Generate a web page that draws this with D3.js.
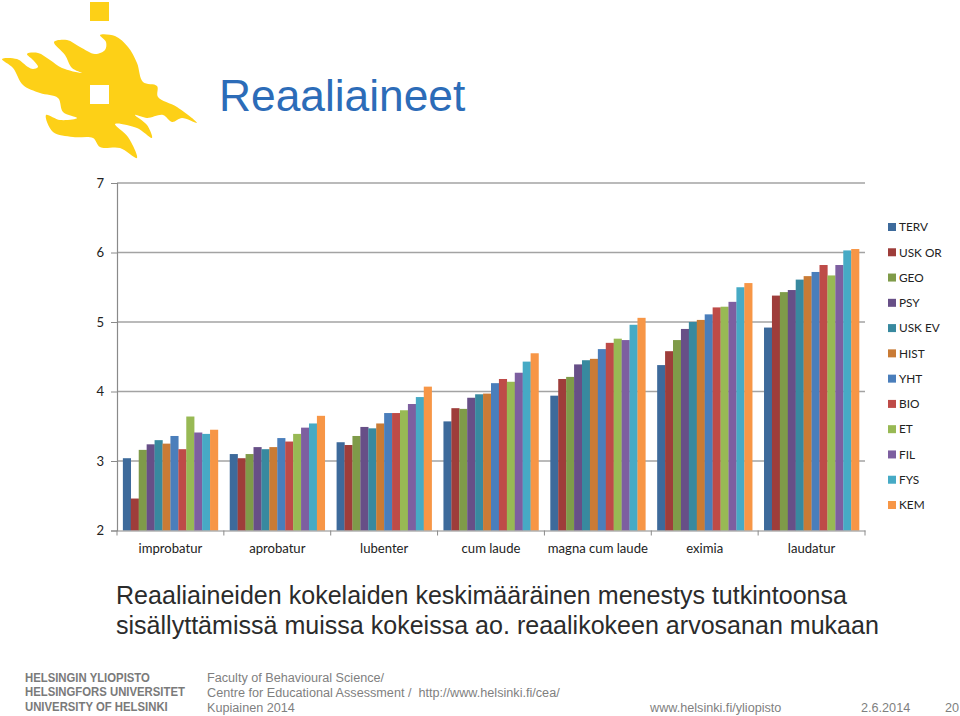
<!DOCTYPE html>
<html>
<head>
<meta charset="utf-8">
<script src="https://cdn.jsdelivr.net/npm/d3@7"></script>
<style>
  html, body { margin: 0; padding: 0; background: #fff; }
  svg { display: block; }
  .axis text { font-family: Lato, "Open Sans", sans-serif; font-size: 13.1px; fill: #222; }
  .legend text { font-family: Lato, "Open Sans", sans-serif; font-size: 11.8px; fill: #222; }
  .slide { font-family: "Liberation Sans", Arial, sans-serif; }
</style>
</head>
<body>
<div id="vis"></div>
<script>
const categories = ['improbatur', 'aprobatur', 'lubenter', 'cum laude', 'magna cum laude', 'eximia', 'laudatur'];
const seriesNames = ['TERV', 'USK OR', 'GEO', 'PSY', 'USK EV', 'HIST', 'YHT', 'BIO', 'ET', 'FIL', 'FYS', 'KEM'];
const seriesColors = ['#3d6a9b', '#9e3d3a', '#7f9b49', '#674f87', '#38899f', '#c97b35', '#4a7ebb', '#be4b48', '#98b954', '#7d5fa0', '#46aac5', '#f79646'];

// one row per category, same order as seriesNames
const improbatur = [3.04, 2.46, 3.16, 3.24, 3.30, 3.25, 3.36, 3.17, 3.64, 3.41, 3.39, 3.45];
const aprobatur = [3.10, 3.04, 3.10, 3.20, 3.17, 3.20, 3.33, 3.28, 3.39, 3.48, 3.54, 3.65];
const lubenter = [3.27, 3.23, 3.36, 3.49, 3.47, 3.54, 3.69, 3.69, 3.73, 3.82, 3.92, 4.07];
const cumLaude = [3.57, 3.76, 3.75, 3.91, 3.96, 3.97, 4.12, 4.18, 4.14, 4.27, 4.43, 4.55];
const magna = [3.94, 4.18, 4.21, 4.39, 4.45, 4.47, 4.61, 4.70, 4.76, 4.74, 4.96, 5.06];
const eximia = [4.38, 4.58, 4.74, 4.90, 5.00, 5.03, 5.11, 5.21, 5.22, 5.29, 5.50, 5.56];
const laudatur = [4.92, 5.38, 5.43, 5.46, 5.61, 5.66, 5.72, 5.82, 5.67, 5.82, 6.03, 6.05];
const rows = [improbatur, aprobatur, lubenter, cumLaude, magna, eximia, laudatur];

const yTicks = [2, 3, 4, 5, 6, 7];

const titleText = 'Reaaliaineet';
const subtitleLines = ['Reaaliaineiden kokelaiden keskimääräinen menestys tutkintoonsa', 'sisällyttämissä muissa kokeissa ao. reaalikokeen arvosanan mukaan'];
const wordmarkLines = ['HELSINGIN YLIOPISTO', 'HELSINGFORS UNIVERSITET', 'UNIVERSITY OF HELSINKI'];
const footerLines = ['Faculty of Behavioural Science/', 'Centre for Educational Assessment /  http://www.helsinki.fi/cea/', 'Kupiainen 2014'];

// logo outline
const flame = [[2,59],[17,59],[28,67],[33,69],[38,67],[33,60],[27,54],[38,53],[50,60],[62,68],[82,73],[72,68],[65,55],[54,42],[67,40],[80,47],[95,54],[105,50],[106,42],[100,35],[115,36],[128,47],[137,63],[143,82],[157,86],[158,97],[177,107],[197,123],[182,118],[172,122],[163,115],[147,118],[135,115],[147,125],[152,138],[137,128],[115,124],[128,137],[137,158],[120,148],[100,147],[93,138],[73,137],[53,132],[46,115],[60,120],[77,118],[63,112],[58,98],[40,93],[23,85],[13,68]];

const svg = d3.select('#vis')
  .append('svg')
  .attr('width', 960)
  .attr('height', 716)
  .attr('viewBox', '0 0 960 716');

// logo flame
svg.append('rect').attr('x', 90).attr('y', 2).attr('width', 19).attr('height', 19).attr('fill', '#fdd017');
svg.append('path')
  .attr('fill', '#fdd017')
  .attr('d', d3.line().curve(d3.curveCatmullRomClosed.alpha(0.5))(flame));
svg.append('rect').attr('x', 90).attr('y', 85).attr('width', 19).attr('height', 19).attr('fill', '#fff');

// title
svg.append('text').attr('class', 'slide')
  .attr('x', 219).attr('y', 111)
  .attr('font-size', 44.3).attr('fill', '#2c6cb8')
  .text(titleText);

// scales
const x = d3.scaleBand()
  .domain(categories)
  .range([117, 865])
  .paddingInner(0.11)
  .paddingOuter(0.055);

const xSeries = d3.scaleBand()
  .domain(seriesNames)
  .range([0, x.bandwidth()]);

const y = d3.scaleLinear()
  .domain([2, 7])
  .range([530.5, 183]);

const color = d3.scaleOrdinal().domain(seriesNames).range(seriesColors);

// gridlines
svg.append('g')
  .selectAll('line')
  .data(yTicks.slice(1))
  .join('line')
  .attr('x1', 117).attr('x2', 865)
  .attr('y1', d => y(d)).attr('y2', d => y(d))
  .attr('stroke', '#a3a3a3')
  .attr('stroke-width', 1.6);

// bars
svg.append('g')
  .selectAll('g')
  .data(rows)
  .join('g')
  .attr('transform', (d, i) => 'translate(' + x(categories[i]) + ',0)')
  .selectAll('rect')
  .data(d => d.map((v, i) => ({ key: seriesNames[i], value: v })))
  .join('rect')
  .attr('x', d => xSeries(d.key))
  .attr('y', d => y(d.value))
  .attr('width', xSeries.bandwidth() + 0.2)
  .attr('height', d => y(2) - y(d.value))
  .attr('fill', d => color(d.key));

// y axis
const yAxis = svg.append('g')
  .attr('class', 'axis')
  .attr('transform', 'translate(117,0)')
  .call(d3.axisLeft(y).tickValues(yTicks).tickSize(6).tickPadding(7).tickFormat(d3.format('d')));

// x axis, ticks on band edges
const xEdges = categories.map(c => x(c) - x.step() * 0.055).concat([865]);
const xAxis = svg.append('g')
  .attr('class', 'axis')
  .attr('transform', 'translate(0,530.5)')
  .call(d3.axisBottom(x).tickSize(0).tickPadding(13));
xAxis.selectAll('.tickmark')
  .data(xEdges)
  .join('line')
  .attr('class', 'tickmark')
  .attr('x1', d => d).attr('x2', d => d)
  .attr('y1', 0).attr('y2', 5)
  .attr('stroke', '#8a8a8a');

svg.selectAll('.axis .domain').attr('stroke', '#8a8a8a').attr('stroke-width', 1.2);
yAxis.selectAll('.tick line').attr('stroke', '#8a8a8a');

// legend
const legendY = d3.scalePoint().domain(seriesNames).range([227, 505]);
const legend = svg.append('g')
  .attr('class', 'legend')
  .selectAll('g')
  .data(seriesNames)
  .join('g')
  .attr('transform', d => 'translate(888,' + legendY(d) + ')');
legend.append('rect')
  .attr('x', 0).attr('y', -4)
  .attr('width', 8).attr('height', 8)
  .attr('fill', d => color(d));
legend.append('text')
  .attr('x', 11).attr('dy', '0.36em')
  .text(d => d);

// subtitle
svg.append('g').attr('class', 'slide')
  .selectAll('text')
  .data(subtitleLines)
  .join('text')
  .attr('x', 116)
  .attr('y', (d, i) => 604 + i * 30)
  .attr('font-size', 25.05)
  .attr('fill', '#2b2b2b')
  .text(d => d);

// university wordmark, squeezed to the width of the logo type
svg.append('g').attr('class', 'slide')
  .attr('transform', 'translate(25,0) scale(0.93,1)')
  .selectAll('text')
  .data(wordmarkLines)
  .join('text')
  .attr('x', 0)
  .attr('y', (d, i) => 682 + i * 14.5)
  .attr('font-size', 12.2)
  .attr('font-weight', 'bold')
  .attr('fill', '#7a7a7a')
  .text(d => d);

// footer
svg.append('g').attr('class', 'slide')
  .selectAll('text')
  .data(footerLines)
  .join('text')
  .attr('x', 207)
  .attr('y', (d, i) => 682 + i * 14.8)
  .attr('font-size', 12.65)
  .attr('fill', '#7f7f7f')
  .attr('xml:space', 'preserve')
  .text(d => d);

svg.append('g').attr('class', 'slide')
  .selectAll('text')
  .data([['www.helsinki.fi/yliopisto', 650], ['2.6.2014', 861], ['20', 945]])
  .join('text')
  .attr('x', d => d[1])
  .attr('y', 712)
  .attr('font-size', 12.65)
  .attr('fill', '#7f7f7f')
  .text(d => d[0]);
</script>
</body>
</html>
